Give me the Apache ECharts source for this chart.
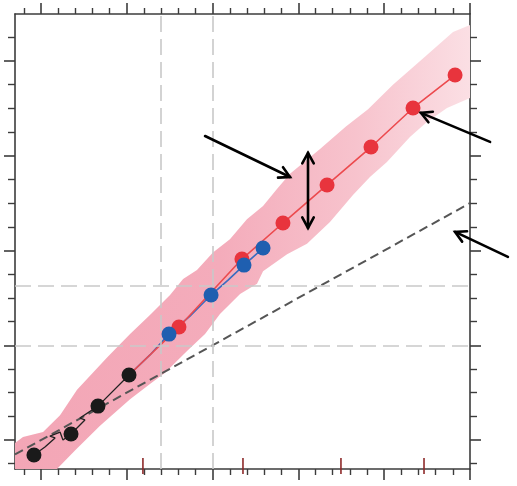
<!DOCTYPE html>
<html><head><meta charset="utf-8">
<script src="https://cdn.jsdelivr.net/npm/echarts@6/dist/echarts.min.js"></script>
<style>html,body{margin:0;padding:0;background:#fff}#c{width:517px;height:486px}</style>
</head><body><div id="c"></div>
<script>
// ---- data ----
const xRange = [-1.515, 25];
const yRange = [-1.53, 22.48];
const xMajorTicks = [0, 5, 10, 15, 20, 25];
const yMajorTicks = [0, 5, 10, 15, 20];
const blackPts = [[-0.41,-0.79],[1.75,0.32],[3.32,1.79],[5.13,3.43]];
const bluePts = [[7.46,5.59],[9.91,7.65],[11.83,9.23],[12.94,10.13]];
const redPts = [[8.04,5.96],[11.71,9.55],[14.10,11.45],[16.67,13.46],[19.23,15.46],[21.68,17.52],[24.13,19.26]];
const blackPath = [[-0.41,-0.79],[0.23,-0.37],[0.82,0.11],[0.52,0.21],[1.11,0.42],[1.28,0.0],[1.75,0.32],[2.56,1.06],[2.27,1.16],[3.32,1.79],[5.13,3.43]];
const bluePath = [[5.13,3.43],[6.35,4.49],[7.46,5.59],[8.68,6.54],[9.91,7.65],[10.9,8.44],[11.83,9.23],[12.94,10.13]];
const redPath = [[5.13,3.43],[8.04,5.96],[11.71,9.55],[14.10,11.45],[16.67,13.46],[19.23,15.46],[21.68,17.52],[24.13,19.26]];
const bandUpper = [[-1.515,-0.16],[-1.05,0.16],[0.12,0.42],[1.11,1.3],[2.10,2.65],[3.85,4.35],[5.19,5.6],[6.35,6.6],[7.52,7.65],[8.28,8.5],[9.09,8.97],[10.02,9.9],[11.01,10.6],[12.0,11.65],[12.94,12.35],[13.75,13.25],[14.51,14.05],[16.26,15.35],[17.77,16.55],[19.06,17.45],[20.51,18.75],[22.49,20.32],[24.01,21.53],[25,21.9]];
const bandLower = [[25,18.05],[23.66,17.52],[22.49,16.78],[21.5,15.99],[20.16,14.67],[19.17,13.88],[18.18,12.93],[16.84,11.5],[15.5,10.35],[14.34,9.8],[12.94,8.9],[12.59,8.25],[11.6,7.7],[10.43,6.65],[9.56,5.6],[8.51,4.7],[7.23,3.55],[6.35,2.95],[5.19,2.15],[3.44,0.75],[1.98,-0.55],[0.93,-1.53],[-1.515,-1.53]];
const refLine = [[-1.515,-0.76],[25,12.5]];
const vGuides = [7, 10];
const hGuides = [5, 8.13];
const redMarks = [5.94, 11.77, 17.48, 22.32];
// arrows: [x1,y1,x2,y2,doubleHeaded]
const arrows = [[9.56,16.04,14.51,13.88,0],[15.56,15.15,15.56,11.19,1],[26.17,15.73,22.14,17.26,0],[27.21,9.66,24.13,10.98,0]];

const axisCol = '#3c3c3c';
function xAx(pos){return {type:'value',position:pos,min:xRange[0],max:xRange[1],splitNumber:5,
  axisLine:{show:true,onZero:false,lineStyle:{color:axisCol,width:1.6}},
  axisTick:{show:true,length:11,customValues:xMajorTicks,lineStyle:{color:axisCol,width:1.6}},
  minorTick:{show:true,splitNumber:5,length:6,lineStyle:{color:axisCol,width:1.4}},
  axisLabel:{show:false},splitLine:{show:false}};}
function yAx(pos){return {type:'value',position:pos,min:yRange[0],max:yRange[1],splitNumber:5,
  axisLine:{show:true,onZero:false,lineStyle:{color:axisCol,width:1.6}},
  axisTick:{show:true,length:11,customValues:yMajorTicks,lineStyle:{color:axisCol,width:1.6}},
  minorTick:{show:true,splitNumber:4,length:7,lineStyle:{color:axisCol,width:1.4}},
  axisLabel:{show:false},splitLine:{show:false}};}

const chart = echarts.init(document.getElementById('c'), null, {renderer:'canvas'});
const bandFill = new echarts.graphic.LinearGradient(0,0,1,0,[
  {offset:0,color:'#f3a6b6'},{offset:0.45,color:'#f4acbb'},{offset:0.75,color:'#f7c3cd'},{offset:1,color:'#fbdfe4'}]);
const bandPoly = bandUpper.concat(bandLower);

chart.setOption({
  animation:false,
  grid:{left:15,right:47,top:14,bottom:17,containLabel:false},
  xAxis:[xAx('bottom'), xAx('top')],
  yAxis:[yAx('left'), yAx('right')],
  series:[
    {type:'custom',z:1,clip:true,data:bandPoly,encode:{x:0,y:1},
     renderItem:function(params,api){
       if(params.dataIndex!==0) return null;
       const pts = bandPoly.map(p=>api.coord(p));
       return {type:'polygon',shape:{points:pts},style:{fill:bandFill}};
     }},
    {type:'line',z:2,data:[],silent:true,
     markLine:{silent:true,symbol:['none','none'],label:{show:false},
       lineStyle:{color:'#c9c9c9',width:1.6,type:[16,7]},
       data:vGuides.map(v=>({xAxis:v})).concat(hGuides.map(v=>({yAxis:v})))}},
    {type:'line',z:3,data:refLine,showSymbol:false,symbol:'none',
     lineStyle:{color:'#555',width:2,type:[9,5]}},
    {type:'line',z:4,data:blackPath,symbol:'none',lineStyle:{color:'#222',width:1.3}},
    {type:'line',z:4,data:bluePath,symbol:'none',lineStyle:{color:'#3a6cc0',width:1.6}},
    {type:'line',z:4,data:redPath,symbol:'none',lineStyle:{color:'#ec4a4e',width:1.6}},
    {type:'scatter',z:5,data:redPts,symbolSize:15,itemStyle:{color:'#e8343d',opacity:1}},
    {type:'scatter',z:6,data:bluePts,symbolSize:15,itemStyle:{color:'#1f5fb0',opacity:1}},
    {type:'scatter',z:6,data:blackPts,symbolSize:15,itemStyle:{color:'#1a1a1a',opacity:1}},
    {type:'custom',z:7,clip:false,data:redMarks.map(v=>[v]),encode:{x:0},
     renderItem:function(params,api){
       const a = api.coord([api.value(0), -0.95]);
       const b = api.coord([api.value(0), -1.8]);
       return {type:'line',shape:{x1:a[0],y1:a[1],x2:b[0],y2:b[1]},style:{stroke:'#8e2a2a',lineWidth:1.6}};
     }},
    {type:'custom',z:8,clip:false,data:arrows,encode:{x:[0,2],y:[1,3]},
     renderItem:function(params,api){
       const p1 = api.coord([api.value(0),api.value(1)]);
       const p2 = api.coord([api.value(2),api.value(3)]);
       const dbl = api.value(4);
       const st = {stroke:'#000',lineWidth:2.6,fill:null,lineCap:'round',lineJoin:'miter'};
       function head(tip,from){
         const a = Math.atan2(tip[1]-from[1], tip[0]-from[0]);
         const L=12, th=0.5;
         return {type:'polyline',shape:{points:[
           [tip[0]-L*Math.cos(a-th), tip[1]-L*Math.sin(a-th)], tip,
           [tip[0]-L*Math.cos(a+th), tip[1]-L*Math.sin(a+th)]]},style:st};
       }
       const ch = [{type:'line',shape:{x1:p1[0],y1:p1[1],x2:p2[0],y2:p2[1]},style:st}, head(p2,p1)];
       if(dbl) ch.push(head(p1,p2));
       return {type:'group',children:ch};
     }}
  ]
});
</script></body></html>
